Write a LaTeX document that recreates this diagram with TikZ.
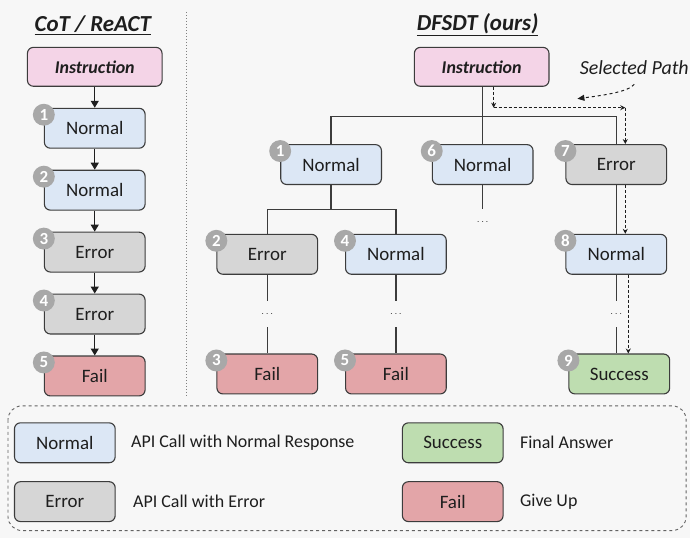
\documentclass[tikz,border=0pt]{standalone}
\usepackage{fontspec}
\setmainfont{Carlito}
\usetikzlibrary{arrows.meta, positioning, calc}
\usepackage{xcolor}

\definecolor{instfill}{HTML}{F4D4E7}
\definecolor{normfill}{HTML}{DCE7F5}
\definecolor{errfill}{HTML}{D6D6D6}
\definecolor{failfill}{HTML}{E3A5A8}
\definecolor{succfill}{HTML}{BEDDB0}
\definecolor{boxline}{HTML}{3C3C3C}
\definecolor{numgray}{HTML}{A8A8A8}
\definecolor{inkgray}{HTML}{1E1E1E}

% gray step number on the top left corner of a box
\newcommand{\stepnum}[2]{\node (num-#1) [numdot] at ($(#1.north west)+(0,7)$) {#2};}

\begin{document}
\begin{tikzpicture}[
  x=1pt, y=-1pt,
  node distance=21pt,
  every node/.style={text=inkgray},
  box/.style={rectangle, rounded corners=6pt, draw=boxline, line width=1.1pt,
    minimum width=101pt, minimum height=40pt, font=\fontsize{19}{20}\selectfont},
  normbox/.style={box, fill=normfill},
  errbox/.style={box, fill=errfill},
  failbox/.style={box, fill=failfill},
  succbox/.style={box, fill=succfill},
  instbox/.style={box, fill=instfill, minimum width=135pt, minimum height=39pt,
    font=\fontsize{18}{20}\selectfont\bfseries\itshape},
  numdot/.style={circle, fill=numgray, inner sep=0pt, minimum size=22pt,
    font=\fontsize{17}{17}\selectfont\bfseries, text=white},
  title/.style={font=\fontsize{23}{26}\selectfont\bfseries\itshape},
  dots/.style={inner sep=0pt, minimum height=26pt, font=\fontsize{10}{10}\selectfont},
  legtext/.style={anchor=west, font=\fontsize{18}{20}\selectfont},
  tree/.style={line width=1.3pt, draw=boxline},
  arrow/.style={-{Triangle[length=7pt, width=8pt]}, line width=1.3pt, draw=inkgray},
  selpath/.style={densely dashed, line width=0.8pt, draw=inkgray, -{Stealth[length=5pt, width=5pt]}}
]

\fill[white!97!black] (0,0) rectangle (692,539);

% left column
\node (tleft) [title] at (93,25) {\underline{CoT / ReACT}};
\node (inst1) [instbox] at (95,67) {Instruction};
\node (cnorm1) [normbox, below=of inst1] {Normal};
\node (cnorm2) [normbox, below=of cnorm1] {Normal};
\node (cerr3) [errbox, below=of cnorm2] {Error};
\node (cerr4) [errbox, below=of cerr3] {Error};
\node (cfail5) [failbox, below=of cerr4] {Fail};

\draw [arrow] (inst1) -- (cnorm1);
\draw [arrow] (cnorm1) -- (cnorm2);
\draw [arrow] (cnorm2) -- (cerr3);
\draw [arrow] (cerr3) -- (cerr4);
\draw [arrow] (cerr4) -- (cfail5);

\stepnum{cnorm1}{1}
\stepnum{cnorm2}{2}
\stepnum{cerr3}{3}
\stepnum{cerr4}{4}
\stepnum{cfail5}{5}

\draw [gray, dotted, line width=1pt] (187,12) -- (187,398);

% right tree
\node (tright) [title] at (479,25) {\underline{DFSDT (ours)}};
\node (inst2) [instbox] at (483,67) {Instruction};
\node (norm1) [normbox] at (332,165) {Normal};
\node (norm6) [normbox] at (484,165) {Normal};
\node (err7) [errbox] at (618,165) {Error};
\node (err2) [errbox] at (268,255) {Error};
\node (norm4) [normbox] at (397,255) {Normal};
\node (norm8) [normbox] at (618,255) {Normal};
\node (fail3) [failbox] at (268,375) {Fail};
\node (fail5) [failbox] at (397,375) {Fail};
\node (succ9) [succbox] at (621,375) {Success};

\node (dotsA) [dots] at (268,315) {$\cdots$};
\node (dotsB) [dots] at (397,315) {$\cdots$};
\node (dotsC) [dots] at (484,223) {$\cdots$};
\node (dotsD) [dots] at (618,315) {$\cdots$};

\coordinate (barTop) at (0,117);
\coordinate (barMid) at (0,210);
\draw [tree] (inst2.south -| norm6) -- (norm6);
\draw [tree] (norm1.north) -- (norm1.north |- barTop) -- (err7.north |- barTop) -- (err7.north);
\draw [tree] (norm1) -- (norm1.south |- barMid);
\draw [tree] (err2.north) -- (err2.north |- barMid) -- (norm4.north |- barMid) -- (norm4.north);
\draw [tree] (err2) -- (dotsA) -- (fail3);
\draw [tree] (norm4) -- (dotsB) -- (fail5);
\draw [tree] (norm6) -- (dotsC);
\draw [tree] (err7) -- (norm8);
\draw [tree] (norm8) -- (dotsD) -- (succ9.north -| dotsD);

\stepnum{norm1}{1}
\stepnum{err2}{2}
\stepnum{fail3}{3}
\stepnum{norm4}{4}
\stepnum{fail5}{5}
\stepnum{norm6}{6}
\stepnum{err7}{7}
\stepnum{norm8}{8}
\stepnum{succ9}{9}

% selected path
\coordinate (selA) at (495,87);
\coordinate (selB) at (495,108);
\coordinate (selC) at (627,108);
\coordinate (selD) at (630,0);
\draw [selpath] (selA) -- (selB);
\draw [selpath] (selB) -- (selC);
\draw [selpath] (selC) -- (err7.north -| selC);
\draw [selpath] (err7.south -| selC) -- (norm8.north -| selC);
\draw [selpath] (norm8.south -| selD) -- (succ9.north -| selD);

\node (seltxt) [font=\fontsize{20}{22}\selectfont\itshape] at (636,68) {Selected Path};
\coordinate (selP) at (579,99);
\draw [selpath, dashed, line width=1pt, -{Triangle[length=7pt, width=6pt]}]
  ([yshift=-6pt]seltxt.south) .. controls +(-6,8) and +(22,-3) .. (selP);

% legend
\draw [dashed, line width=0.9pt, draw=boxline!80, rounded corners=14pt] (8,407) rectangle (688,532);
\node (lnorm) [normbox] at (65,444) {Normal};
\node (lerr) [errbox] at (65,503) {Error};
\node (lsucc) [succbox] at (454,444) {Success};
\node (lfail) [failbox] at (454,503) {Fail};
\node (tnorm) [legtext] at (128,444) {API Call with Normal Response};
\node (terr) [legtext] at (130,503) {API Call with Error};
\node (tsucc) [legtext] at (518,444) {Final Answer};
\node (tfail) [legtext] at (518,503) {Give Up};

\end{tikzpicture}
\end{document}
